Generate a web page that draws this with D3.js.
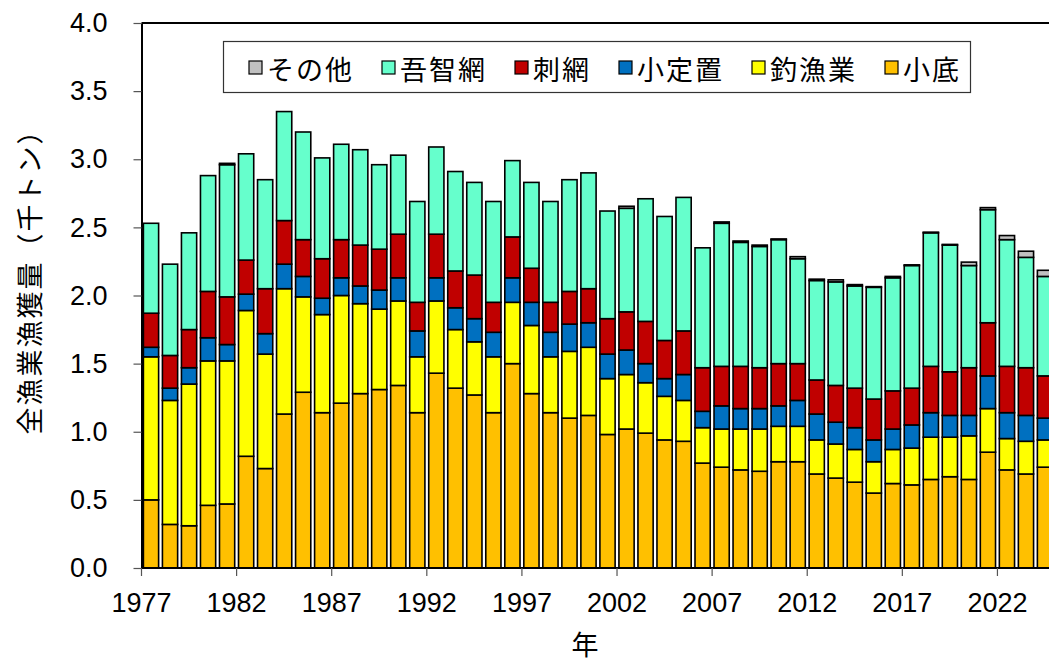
<!DOCTYPE html>
<html>
<head>
<meta charset="utf-8">
<script src="https://cdn.jsdelivr.net/npm/d3@7"></script>
<style>
  html, body { margin: 0; padding: 0; background: #fff; }
  svg { display: block; }
</style>
</head>
<body>
<svg id="chart" width="1049" height="662"></svg>
<script>
// ---- data ----
const years = d3.range(1977, 2025);
const seriesNames = ["小底", "釣漁業", "小定置", "刺網", "吾智網", "その他"];
const seriesColors = ["#FFC000", "#FFFF00", "#0070C0", "#C00000", "#66FFCC", "#C0C0C0"];
const kosoko   = [0.50,0.32,0.31,0.46,0.47,0.82,0.73,1.13,1.29,1.14,1.21,1.28,1.31,1.34,1.14,1.43,1.32,1.27,1.14,1.50,1.28,1.14,1.10,1.12,0.98,1.02,0.99,0.94,0.93,0.77,0.74,0.72,0.71,0.78,0.78,0.69,0.66,0.63,0.55,0.62,0.61,0.65,0.67,0.65,0.85,0.72,0.69,0.74];
const tsuri    = [1.05,0.91,1.04,1.06,1.05,1.07,0.84,0.92,0.70,0.72,0.79,0.66,0.59,0.62,0.41,0.53,0.43,0.39,0.41,0.45,0.50,0.41,0.49,0.50,0.41,0.40,0.37,0.32,0.30,0.26,0.28,0.30,0.31,0.26,0.26,0.25,0.25,0.24,0.23,0.25,0.27,0.31,0.29,0.32,0.32,0.23,0.24,0.20];
const koteichi = [0.07,0.09,0.12,0.17,0.12,0.12,0.15,0.18,0.15,0.12,0.13,0.13,0.14,0.17,0.19,0.17,0.16,0.17,0.18,0.18,0.17,0.18,0.20,0.18,0.18,0.18,0.14,0.13,0.19,0.12,0.17,0.15,0.15,0.15,0.19,0.19,0.16,0.16,0.16,0.15,0.17,0.18,0.16,0.15,0.24,0.19,0.19,0.16];
const sashiami = [0.25,0.24,0.28,0.34,0.35,0.25,0.33,0.32,0.27,0.29,0.28,0.30,0.30,0.32,0.21,0.32,0.27,0.32,0.22,0.30,0.25,0.22,0.24,0.25,0.26,0.28,0.31,0.28,0.32,0.32,0.29,0.31,0.30,0.31,0.27,0.25,0.27,0.29,0.30,0.28,0.27,0.34,0.32,0.35,0.39,0.34,0.35,0.31];
const gochi    = [0.66,0.67,0.71,0.85,0.97,0.78,0.80,0.80,0.79,0.74,0.70,0.70,0.62,0.58,0.74,0.64,0.73,0.68,0.74,0.56,0.63,0.74,0.82,0.85,0.79,0.76,0.90,0.91,0.98,0.88,1.05,0.91,0.89,0.91,0.77,0.73,0.76,0.75,0.82,0.83,0.90,0.98,0.93,0.75,0.83,0.93,0.81,0.73];
const sonota   = [0,0,0,0,0.01,0,0,0,0,0,0,0,0,0,0,0,0,0,0,0,0,0,0,0,0,0.015,0,0,0,0,0.01,0.01,0.01,0.005,0.015,0.01,0.015,0.01,0.005,0.01,0.005,0.005,0.005,0.025,0.015,0.03,0.045,0.045];
const yTicks = [0, 0.5, 1.0, 1.5, 2.0, 2.5, 3.0, 3.5, 4.0];
const xTickYears = [1977, 1982, 1987, 1992, 1997, 2002, 2007, 2012, 2017, 2022];
const yTitle = "全漁業漁獲量（千トン）";
const xTitle = "年";

// ---- build table ----
const seriesArrays = [kosoko, tsuri, koteichi, sashiami, gochi, sonota];
const table = years.map((yr, i) => {
  const row = { year: yr };
  seriesNames.forEach((n, k) => row[n] = seriesArrays[k][i]);
  return row;
});

// ---- layout ----
const svg = d3.select("#chart");
const plotL = 141.5, plotR = 1054.5, plotT = 23, plotB = 568;
const numFont = "'Liberation Sans', Arial, sans-serif";
const jpFont = "'Noto Sans CJK JP', 'Noto Sans', sans-serif";

const x = d3.scaleBand().domain(years).range([plotL, plotR]).paddingInner(0.2).paddingOuter(0.1);
const y = d3.scaleLinear().domain([0, 4]).range([plotB, plotT]);

const stacked = d3.stack().keys(seriesNames)(table);

// bars
const g = svg.append("g");
g.selectAll("g.layer").data(stacked).join("g")
  .attr("class", "layer")
  .attr("fill", (d, i) => seriesColors[i])
  .selectAll("rect").data(d => d.filter(p => p[1] - p[0] > 0)).join("rect")
  .attr("x", d => x(d.data.year))
  .attr("width", x.bandwidth())
  .attr("y", d => y(d[1]))
  .attr("height", d => y(d[0]) - y(d[1]))
  .attr("stroke", "#000")
  .attr("stroke-width", 1.6);

// top frame line
svg.append("line")
  .attr("x1", plotL).attr("x2", 1049)
  .attr("y1", y(4)).attr("y2", y(4))
  .attr("stroke", "#000").attr("stroke-width", 2);

// y axis
const yAxis = svg.append("g")
  .attr("transform", `translate(${plotL},0)`)
  .call(d3.axisLeft(y).tickValues(yTicks).tickFormat(d3.format(".1f")).tickSize(8).tickPadding(26).tickSizeOuter(0));
yAxis.select(".domain").attr("stroke", "#000").attr("stroke-width", 2);
yAxis.selectAll(".tick line").attr("stroke", "#555").attr("stroke-width", 1.2);
yAxis.selectAll(".tick text").attr("font-family", numFont).attr("font-size", 27).attr("fill", "#000");

// x axis
const gap = (x.step() - x.bandwidth()) / 2;
const xAxis = svg.append("g");
xAxis.append("line")
  .attr("x1", plotL).attr("x2", 1049)
  .attr("y1", plotB).attr("y2", plotB)
  .attr("stroke", "#000").attr("stroke-width", 2);
const xt = xAxis.selectAll("g.xt").data(xTickYears).join("g")
  .attr("transform", d => `translate(${x(d) - gap},${plotB})`);
xt.append("line").attr("y1", 0).attr("y2", 8).attr("stroke", "#555").attr("stroke-width", 1.2);
xt.append("text")
  .attr("y", 44)
  .attr("text-anchor", "middle")
  .attr("font-family", numFont)
  .attr("font-size", 27)
  .attr("fill", "#000")
  .text(d => d);

// axis titles
svg.append("text")
  .attr("transform", `translate(28,275) rotate(-90)`)
  .attr("text-anchor", "middle")
  .attr("dominant-baseline", "central")
  .attr("font-family", jpFont)
  .attr("font-size", 27)
  .attr("letter-spacing", 2)
  .attr("fill", "#000")
  .text(yTitle);

svg.append("text")
  .attr("x", 585).attr("y", 643)
  .attr("text-anchor", "middle")
  .attr("dominant-baseline", "central")
  .attr("font-family", jpFont)
  .attr("font-size", 27)
  .attr("fill", "#000")
  .text(xTitle);

// legend
const legend = svg.append("g");
legend.append("rect")
  .attr("x", 223.5).attr("y", 41.5)
  .attr("width", 747).attr("height", 51)
  .attr("fill", "#fff").attr("stroke", "#333").attr("stroke-width", 1.2);
let lx = 249;
const legendOrder = d3.range(seriesNames.length).reverse();
legendOrder.forEach(k => {
  legend.append("rect")
    .attr("x", lx).attr("y", 61)
    .attr("width", 13).attr("height", 13)
    .attr("fill", seriesColors[k]).attr("stroke", "#000").attr("stroke-width", 1.2);
  const t = legend.append("text")
    .attr("x", lx + 18).attr("y", 68)
    .attr("dominant-baseline", "central")
    .attr("font-family", jpFont)
    .attr("font-size", 27)
    .attr("letter-spacing", 2)
    .attr("fill", "#000")
    .text(seriesNames[k]);
  const w = t.node().getComputedTextLength();
  lx = lx + 18 + w + 28;
});
</script>
</body>
</html>
